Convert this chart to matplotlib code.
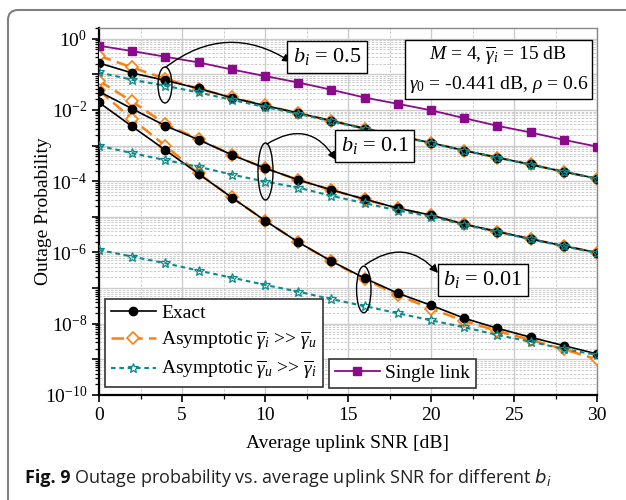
import numpy as np
import matplotlib
matplotlib.use('Agg')
import matplotlib.pyplot as plt
from matplotlib.patches import Ellipse, FancyBboxPatch
from matplotlib.transforms import IdentityTransform
from matplotlib.ticker import FixedLocator, FuncFormatter, MultipleLocator

plt.rcParams['font.family'] = ['Liberation Serif', 'DejaVu Serif']
plt.rcParams['mathtext.fontset'] = 'custom'
plt.rcParams['mathtext.rm'] = 'Liberation Serif'
plt.rcParams['mathtext.it'] = 'Liberation Serif:italic'
plt.rcParams['mathtext.bf'] = 'Liberation Serif:bold'

# ---------------- data ----------------
snr_db = [0, 2, 4, 6, 8, 10, 12, 14, 16, 18, 20, 22, 24, 26, 28, 30]

single_link = [0.636, 0.45, 0.312, 0.216, 0.137, 0.0896, 0.059, 0.037, 0.0223,
               0.0149, 0.0098, 0.0059, 0.0036, 0.00234, 0.00145, 0.00094]

exact_b05 = [0.208, 0.109, 0.0674, 0.0402, 0.022, 0.0133, 0.00818, 0.00498, 0.00302,
             0.00188, 0.0012, 7.28e-4, 4.63e-4, 2.95e-4, 1.84e-4, 1.19e-4]
asym_i_b05 = [0.333, 0.156, 0.0752, 0.0394, 0.0226, 0.0134, 0.00818, 0.00498, 0.00302,
              0.00188, 0.0012, 7.28e-4, 4.63e-4, 2.95e-4, 1.84e-4, 1.19e-4]
asym_u_b05 = [0.113, 0.0705, 0.0479, 0.031, 0.0193, 0.0121, 0.0078, 0.0048, 0.00296,
              0.00185, 0.00118, 7.2e-4, 4.6e-4, 2.93e-4, 1.83e-4, 1.18e-4]

exact_b01 = [0.0331, 0.0108, 0.0036, 0.00146, 5.52e-4, 2.33e-4, 1.09e-4, 5.73e-5, 3.14e-5,
             1.75e-5, 1.12e-5, 6.24e-6, 3.86e-6, 2.41e-6, 1.53e-6, 9.93e-7]
asym_i_b01 = [0.066, 0.0173, 0.00402, 0.00152, 5.55e-4, 2.34e-4, 1.09e-4, 5.7e-5, 3.1e-5,
              1.73e-5, 1.1e-5, 6.2e-6, 3.84e-6, 2.4e-6, 1.52e-6, 9.9e-7]
asym_u_b01 = [9.87e-4, 6.16e-4, 3.91e-4, 2.54e-4, 1.54e-4, 9.8e-5, 6.6e-5, 3.89e-5, 2.43e-5,
              1.5e-5, 1.02e-5, 6.0e-6, 3.75e-6, 2.35e-6, 1.5e-6, 9.7e-7]

exact_b001 = [0.01625, 3.44e-3, 7.48e-4, 1.61e-4, 3.49e-5, 7.87e-6, 1.95e-6, 5.7e-7, 1.9e-7,
              7.2e-8, 3.3e-8, 1.43e-8, 7.47e-9, 4.18e-9, 2.43e-9, 1.42e-9]
asym_i_b001 = [0.0353, 5.55e-3, 9.87e-4, 1.65e-4, 3.5e-5, 7.9e-6, 1.95e-6, 5.6e-7, 1.78e-7,
               6.4e-8, 2.65e-8, 1.2e-8, 6.28e-9, 3.51e-9, 1.92e-9, 1.0e-9]
asym_u_b001 = [1.18e-6, 7.67e-7, 5.0e-7, 3.1e-7, 1.97e-7, 1.23e-7, 7.98e-8, 4.91e-8, 3.12e-8,
               1.97e-8, 1.25e-8, 7.97e-9, 4.84e-9, 3.14e-9, 1.96e-9, 1.33e-9]

b_labels = ['$b_i$ = 0.5', '$b_i$ = 0.1', '$b_i$ = 0.01']
legend_labels = ['Exact',
                 r'Asymptotic $\overline{\gamma}_i$ >> $\overline{\gamma}_u$',
                 r'Asymptotic $\overline{\gamma}_u$ >> $\overline{\gamma}_i$',
                 'Single link']
param_text = '$M$ = 4, $\\overline{\\gamma}_i$ = 15 dB\n$\\gamma_0$ = -0.441 dB, $\\rho$ = 0.6'

# ---------------- figure ----------------
W, H = 626, 500
fig = plt.figure(figsize=(W / 100, H / 100), dpi=100)
ax = fig.add_axes([99 / W, 105 / H, 498 / W, 367 / H])

c_black = 'black'
c_orange = '#FF7F0E'
c_teal = '#0A8A8A'
c_purple = '#8B0A8B'

exact_kw = dict(color=c_black, lw=1.2, marker='o', ms=6, mfc=c_black, mec=c_black, zorder=4)
asym_i_kw = dict(color=c_orange, lw=1.8, ls=(0, (5, 2.5)), marker='D', ms=6, mfc='white',
                 mec=c_orange, mew=1.2, zorder=3)
asym_u_kw = dict(color=c_teal, lw=1.5, ls=(0, (2.2, 1.8)), marker='*', ms=7.5, mfc='none',
                 mec=c_teal, mew=0.9, zorder=5)

h_ex = h_ai = h_au = None
for ex, ai, au in [(exact_b05, asym_i_b05, asym_u_b05),
                   (exact_b01, asym_i_b01, asym_u_b01),
                   (exact_b001, asym_i_b001, asym_u_b001)]:
    h_ai, = ax.plot(snr_db, ai, **asym_i_kw)
    h_ex, = ax.plot(snr_db, ex, **exact_kw)
    h_au, = ax.plot(snr_db, au, **asym_u_kw)

h_sl, = ax.plot(snr_db, single_link, color=c_purple, lw=1.3, marker='s', ms=6,
                mfc=c_purple, mec=c_purple, zorder=4)

ax.set_yscale('log')
ax.set_xlim(0, 30)
ax.set_ylim(1e-10, 2)

ax.xaxis.set_major_locator(MultipleLocator(5))
ax.xaxis.set_minor_locator(MultipleLocator(2.5))
ax.yaxis.set_major_locator(FixedLocator([10.0 ** k for k in range(-10, 1)]))
ax.yaxis.set_major_formatter(FuncFormatter(
    lambda v, p: '$10^{%d}$' % round(np.log10(v)) if round(np.log10(v)) % 2 == 0 else ''))
ax.yaxis.set_minor_locator(FixedLocator([m * 10.0 ** k for k in range(-10, 1) for m in range(2, 10)]))

ax.tick_params(which='both', direction='out', top=False, right=False, labelsize=14, width=1.2)
ax.tick_params(which='major', length=5)
ax.tick_params(which='minor', length=3, width=0.9)

ax.grid(which='major', color='#cccccc', lw=1.0, ls='-', zorder=0)
ax.grid(which='minor', color='#cccccc', lw=0.7, ls=(0, (2.5, 1.5)), zorder=0)
ax.set_axisbelow(True)

for s in ['left', 'bottom']:
    ax.spines[s].set_color('black')
    ax.spines[s].set_linewidth(1.6)
for s in ['top', 'right']:
    ax.spines[s].set_color('#888888')
    ax.spines[s].set_linewidth(1.0)

ax.set_xlabel('Average uplink SNR [dB]', fontsize=14, labelpad=8)
ax.set_ylabel('Outage Probability', fontsize=14, labelpad=-5)

# legends
leg1 = ax.legend([h_ex, h_ai, h_au], legend_labels[:3], loc='lower left',
                 bbox_to_anchor=(0.012, 0.022), borderaxespad=0, fontsize=14,
                 fancybox=False, framealpha=1, edgecolor='#333333', handlelength=2.3,
                 labelspacing=0.35, borderpad=0.3, handletextpad=0.3)
leg1.get_frame().set_linewidth(1.2)
ax.add_artist(leg1)
leg2 = ax.legend([h_sl], legend_labels[3:], loc='lower left',
                 bbox_to_anchor=(0.462, 0.019), borderaxespad=0, fontsize=14,
                 fancybox=False, framealpha=1, edgecolor='#333333', handlelength=2.3,
                 borderpad=0.3, handletextpad=0.3)
leg2.get_frame().set_linewidth(1.2)

# annotation boxes
box_kw = dict(boxstyle='square,pad=0.25', fc='white', ec='black', lw=1.0)
ax.text(0.458, 0.921, b_labels[0], transform=ax.transAxes, fontsize=16,
        ha='center', va='center', bbox=box_kw, zorder=10)
ax.text(0.554, 0.6785, b_labels[1], transform=ax.transAxes, fontsize=16,
        ha='center', va='center', bbox=box_kw, zorder=10)
ax.text(0.771, 0.3134, b_labels[2], transform=ax.transAxes, fontsize=16,
        ha='center', va='center', bbox=box_kw, zorder=10)
ax.text(0.802, 0.887, param_text, transform=ax.transAxes, fontsize=14,
        ha='center', va='center', linespacing=1.5,
        bbox=dict(boxstyle='square,pad=0.2', fc='white', ec='black', lw=1.0), zorder=10)

# ellipses (axes fraction)
for (cx, cy, w, h) in [(0.1325, 0.8447, 0.0281, 0.098),
                       (0.3343, 0.609, 0.0301, 0.1553),
                       (0.5317, 0.2876, 0.029, 0.127)]:
    ax.add_patch(Ellipse((cx, cy), w, h, transform=ax.transAxes, fill=False,
                         ec='black', lw=1.0, zorder=6))

# curved arrows (axes fraction, from ellipse tops to the boxes)
def px2ax(px, py):
    return ((px - 99) / 498, (395 - py) / 367)

for (s, e, rad) in [((166, 67), (291, 62), -0.35),
                    ((267, 144), (336, 160), -0.5),
                    ((365, 265), (438, 273), -0.45)]:
    ax.annotate('', xy=px2ax(*e), xytext=px2ax(*s), xycoords='axes fraction',
                textcoords='axes fraction',
                arrowprops=dict(arrowstyle='-|>', color='black', lw=1.0,
                                mutation_scale=12, shrinkA=0, shrinkB=0,
                                connectionstyle='arc3,rad=%.2f' % rad), zorder=7)

# outer rounded frame (display pixels)
frame = FancyBboxPatch((8, -20), 660, 510, boxstyle='round,pad=0,rounding_size=10',
                       transform=IdentityTransform(), fill=False, ec='#808080', lw=1.5)
fig.patches.append(frame)

# caption
fig.canvas.draw()
r = fig.canvas.get_renderer()
t1 = fig.text(25 / W, 1 - 478 / H, 'Fig. 9', fontsize=13, family='Open Sans',
              weight='bold', va='center', ha='left', color='#111111')
bb = t1.get_window_extent(renderer=r)
fig.text((bb.x1 + 4) / W, 1 - 478 / H,
         'Outage probability vs. average uplink SNR for different $b_i$',
         fontsize=13, family='Open Sans', va='center', ha='left',
         math_fontfamily='dejavusans', color='#222222')

fig.savefig('out.png', dpi=100)
